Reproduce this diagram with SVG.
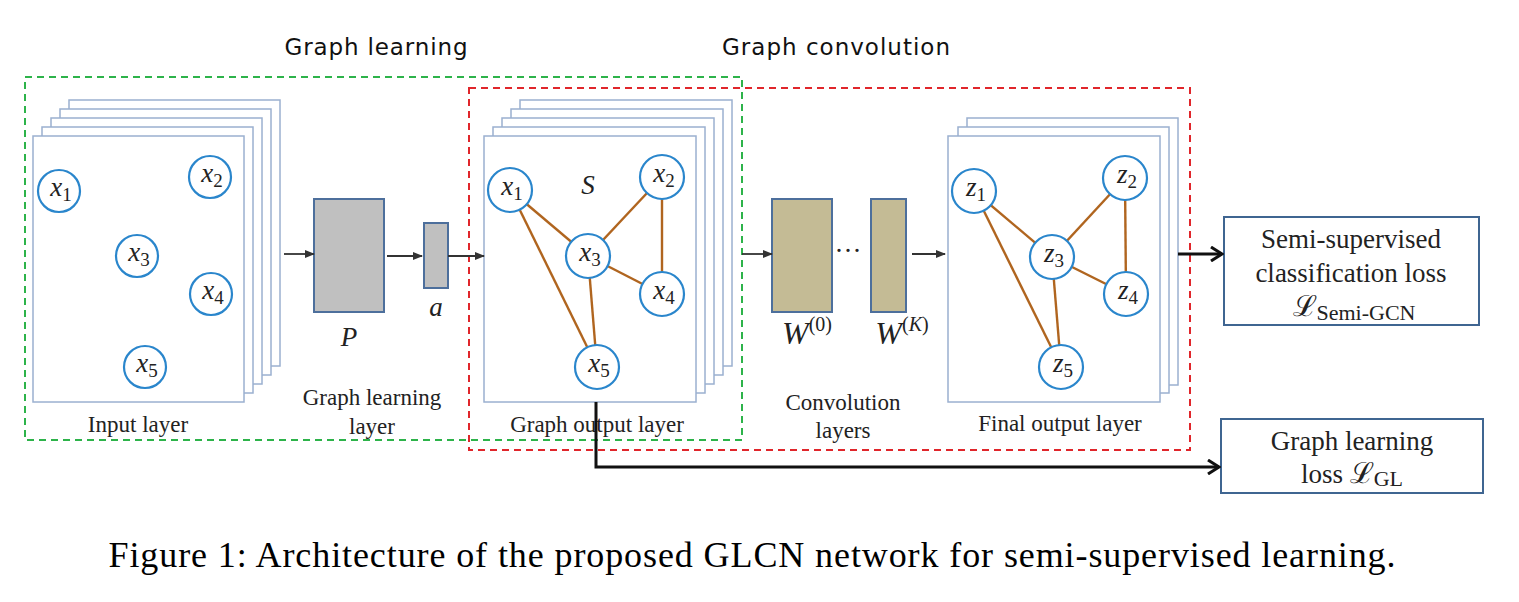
<svg xmlns="http://www.w3.org/2000/svg" width="1519" height="602" viewBox="0 0 1519 602">
<defs>
<style>
.sheet{fill:#fff;stroke:#9bb0d0;stroke-width:1.5}
.node{fill:#fff;stroke:#2a86cc;stroke-width:2.2}
.edge{stroke:#b0651f;stroke-width:2.4}
.lab{font-family:"Liberation Serif",serif;font-size:23px;fill:#222;text-anchor:middle}
.big{font-size:27px}
.math{font-family:"Liberation Serif","DejaVu Serif",serif;font-size:27px;fill:#222;text-anchor:middle}
.head{font-family:"DejaVu Sans","Liberation Sans",sans-serif;font-size:23px;fill:#111;text-anchor:middle}
.gray{fill:#c0c0c0;stroke:#4d6f9c;stroke-width:2}
.khaki{fill:#c4bb95;stroke:#4d6f9c;stroke-width:2}
.loss{fill:#fff;stroke:#3f6591;stroke-width:2}
.thin{stroke:#333;stroke-width:1.8;fill:none}
.thick{stroke:#111;stroke-width:3;fill:none}
</style>
<marker id="ah" markerWidth="10" markerHeight="8" refX="9" refY="4" orient="auto" markerUnits="userSpaceOnUse">
<path d="M0,0 L10,4 L0,8 Z" fill="#333"/>
</marker>
<marker id="ahk" markerWidth="16" markerHeight="16" refX="14" refY="8" orient="auto" markerUnits="userSpaceOnUse">
<path d="M3,1 L14,8 L3,15" fill="none" stroke="#111" stroke-width="3"/>
</marker>
</defs>
<rect width="1519" height="602" fill="#fff"/>

<text class="head" x="376" y="55" textLength="183">Graph learning</text>
<text class="head" x="836" y="55" textLength="228">Graph convolution</text>

<rect x="25" y="77" width="717" height="363" fill="none" stroke="#2db34a" stroke-width="2" stroke-dasharray="7,5"/>
<rect x="469" y="88" width="721" height="362" fill="none" stroke="#e0262b" stroke-width="2" stroke-dasharray="7,5"/>

<g id="input-layer">
<rect class="sheet" x="69" y="100" width="211" height="266"/>
<rect class="sheet" x="60" y="109" width="211" height="266"/>
<rect class="sheet" x="51" y="118" width="211" height="266"/>
<rect class="sheet" x="42" y="127" width="211" height="266"/>
<rect class="sheet" x="33" y="136" width="211" height="266"/>
<circle class="node" cx="59" cy="191" r="21"/>
<circle class="node" cx="210" cy="177" r="21"/>
<circle class="node" cx="137" cy="256" r="21"/>
<circle class="node" cx="211" cy="294" r="21"/>
<circle class="node" cx="145" cy="367" r="21"/>
<text class="math" x="61" y="196"><tspan font-style="italic">x</tspan><tspan font-size="19" dy="5">1</tspan></text>
<text class="math" x="212" y="182"><tspan font-style="italic">x</tspan><tspan font-size="19" dy="5">2</tspan></text>
<text class="math" x="139" y="261"><tspan font-style="italic">x</tspan><tspan font-size="19" dy="5">3</tspan></text>
<text class="math" x="213" y="299"><tspan font-style="italic">x</tspan><tspan font-size="19" dy="5">4</tspan></text>
<text class="math" x="147" y="372"><tspan font-style="italic">x</tspan><tspan font-size="19" dy="5">5</tspan></text>
<text class="lab" x="138" y="432">Input layer</text>
</g>

<g id="graph-learning-layer">
<rect class="gray" x="314" y="199" width="70" height="113"/>
<rect class="gray" x="424" y="223" width="24" height="65"/>
<text class="math" x="349" y="346" font-style="italic" font-size="29">P</text>
<text class="math" x="436" y="316" font-style="italic">a</text>
<text class="lab" x="372" y="405">Graph learning</text>
<text class="lab" x="372" y="434">layer</text>
</g>

<g id="graph-output-layer">
<rect class="sheet" x="520" y="100" width="212" height="266"/>
<rect class="sheet" x="511" y="109" width="212" height="266"/>
<rect class="sheet" x="502" y="118" width="212" height="266"/>
<rect class="sheet" x="493" y="127" width="212" height="266"/>
<rect class="sheet" x="484" y="136" width="212" height="266"/>
<line class="edge" x1="510" y1="190" x2="588" y2="256"/>
<line class="edge" x1="510" y1="190" x2="597" y2="367"/>
<line class="edge" x1="662" y1="177" x2="588" y2="256"/>
<line class="edge" x1="662" y1="177" x2="662" y2="294"/>
<line class="edge" x1="588" y1="256" x2="662" y2="294"/>
<line class="edge" x1="588" y1="256" x2="597" y2="367"/>
<circle class="node" cx="510" cy="190" r="22"/>
<circle class="node" cx="662" cy="177" r="22"/>
<circle class="node" cx="588" cy="256" r="22"/>
<circle class="node" cx="662" cy="294" r="22"/>
<circle class="node" cx="597" cy="367" r="22"/>
<text class="math" x="512" y="195"><tspan font-style="italic">x</tspan><tspan font-size="19" dy="5">1</tspan></text>
<text class="math" x="664" y="182"><tspan font-style="italic">x</tspan><tspan font-size="19" dy="5">2</tspan></text>
<text class="math" x="590" y="261"><tspan font-style="italic">x</tspan><tspan font-size="19" dy="5">3</tspan></text>
<text class="math" x="664" y="299"><tspan font-style="italic">x</tspan><tspan font-size="19" dy="5">4</tspan></text>
<text class="math" x="599" y="372"><tspan font-style="italic">x</tspan><tspan font-size="19" dy="5">5</tspan></text>
<text class="math" x="588" y="194" font-style="italic" font-size="28">S</text>
<text class="lab" x="597" y="432">Graph output layer</text>
</g>

<g id="convolution-layers">
<rect class="khaki" x="772" y="199" width="60" height="113"/>
<rect class="khaki" x="871" y="199" width="35" height="113"/>
<text class="math" x="848" y="260" font-size="20">···</text>
<text class="math" x="807" y="344"><tspan font-style="italic" font-size="32">W</tspan><tspan font-size="20" dy="-13">(0)</tspan></text>
<text class="math" x="902" y="344"><tspan font-style="italic" font-size="32">W</tspan><tspan font-size="20" dy="-13">(</tspan><tspan font-size="20" font-style="italic">K</tspan><tspan font-size="20">)</tspan></text>
<text class="lab" x="843" y="410">Convolution</text>
<text class="lab" x="843" y="438">layers</text>
</g>

<g id="final-output-layer">
<rect class="sheet" x="967" y="118" width="211" height="267"/>
<rect class="sheet" x="958" y="127" width="211" height="266"/>
<rect class="sheet" x="948" y="136" width="212" height="266"/>
<line class="edge" x1="974" y1="191" x2="1052" y2="257"/>
<line class="edge" x1="974" y1="191" x2="1061" y2="367"/>
<line class="edge" x1="1125" y1="178" x2="1052" y2="257"/>
<line class="edge" x1="1125" y1="178" x2="1126" y2="294"/>
<line class="edge" x1="1052" y1="257" x2="1126" y2="294"/>
<line class="edge" x1="1052" y1="257" x2="1061" y2="367"/>
<circle class="node" cx="974" cy="191" r="22"/>
<circle class="node" cx="1125" cy="178" r="22"/>
<circle class="node" cx="1052" cy="257" r="22"/>
<circle class="node" cx="1126" cy="294" r="22"/>
<circle class="node" cx="1061" cy="367" r="22"/>
<text class="math" x="976" y="196"><tspan font-style="italic">z</tspan><tspan font-size="19" dy="5">1</tspan></text>
<text class="math" x="1127" y="183"><tspan font-style="italic">z</tspan><tspan font-size="19" dy="5">2</tspan></text>
<text class="math" x="1054" y="262"><tspan font-style="italic">z</tspan><tspan font-size="19" dy="5">3</tspan></text>
<text class="math" x="1128" y="299"><tspan font-style="italic">z</tspan><tspan font-size="19" dy="5">4</tspan></text>
<text class="math" x="1063" y="372"><tspan font-style="italic">z</tspan><tspan font-size="19" dy="5">5</tspan></text>
<text class="lab" x="1060" y="431">Final output layer</text>
</g>

<g id="semi-loss">
<rect class="loss" x="1224" y="217" width="255" height="108"/>
<text class="lab big" x="1351" y="248">Semi-supervised</text>
<text class="lab big" x="1351" y="282">classification loss</text>
<text class="math" x="1354" y="316"><tspan font-size="29">ℒ</tspan><tspan font-size="22" dy="4">Semi-GCN</tspan></text>
</g>

<g id="gl-loss">
<rect class="loss" x="1221" y="419" width="262" height="74"/>
<text class="lab big" x="1352" y="450">Graph learning</text>
<text class="lab big" x="1352" y="483">loss <tspan font-size="29">ℒ</tspan><tspan font-size="22" dy="3">GL</tspan></text>
</g>

<g id="connectors">
<line class="thin" x1="284" y1="254" x2="314" y2="254" marker-end="url(#ah)"/>
<line class="thin" x1="387" y1="256" x2="422" y2="256" marker-end="url(#ah)"/>
<line class="thin" x1="448" y1="256" x2="484" y2="256" marker-end="url(#ah)"/>
<line class="thin" x1="742" y1="254" x2="772" y2="254" marker-end="url(#ah)"/>
<line class="thin" x1="912" y1="254" x2="945" y2="254" marker-end="url(#ah)"/>
<line class="thick" x1="1178" y1="254" x2="1222" y2="254" marker-end="url(#ahk)"/>
<polyline class="thick" points="596,402 596,467 1219,467" marker-end="url(#ahk)"/>
</g>

<text x="752" y="567" font-family="'Liberation Serif',serif" font-size="36" fill="#000" text-anchor="middle" textLength="1287">Figure 1: Architecture of the proposed GLCN network for semi-supervised learning.</text>
</svg>
